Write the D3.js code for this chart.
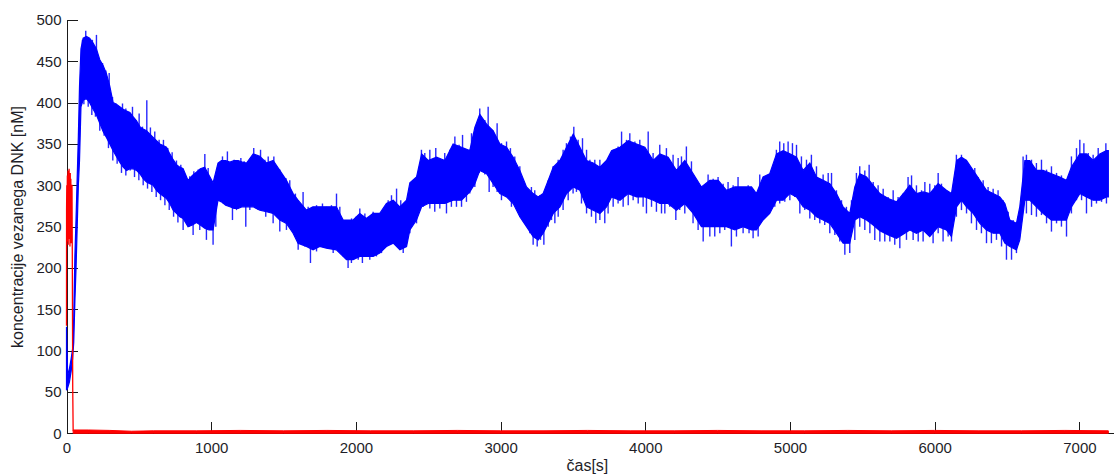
<!DOCTYPE html>
<html>
<head>
<meta charset="utf-8">
<script src="https://cdn.jsdelivr.net/npm/d3@7"></script>
<style>
  html, body { margin: 0; padding: 0; background: #fff; }
  svg { display: block; }
  .axis text { font-family: "Liberation Sans", Arial, sans-serif; font-size: 15px; fill: #1e1e28; }
  .axis path, .axis line { stroke: #1a1a1a; stroke-width: 1; shape-rendering: crispEdges; }
</style>
</head>
<body>
<svg id="chart" width="1114" height="474"></svg>
<script>
// Bound DNA concentration (blue): solid envelope of the noisy trace, time in s, values in nM
const blueTime = [0, 8, 20, 32, 42, 50, 58, 66, 74, 82, 90, 100, 115, 138, 160, 184, 207, 230, 253, 276,
  299, 322, 345, 368, 392, 415, 438, 460, 484, 507, 530, 553, 576, 599, 622, 645, 668, 691, 714, 737,
  760, 783, 806, 840, 870, 898, 925, 955, 985, 1013, 1047, 1071, 1100, 1129, 1158, 1186, 1215, 1244, 1290, 1336,
  1382, 1428, 1474, 1520, 1566, 1600, 1658, 1704, 1750, 1796, 1865, 1912, 1935, 1981, 2027, 2073, 2119, 2165, 2211, 2258,
  2304, 2350, 2373, 2419, 2454, 2500, 2557, 2615, 2672, 2730, 2787, 2822, 2856, 2903, 2949, 2995, 3041, 3087, 3133, 3179,
  3225, 3260, 3294, 3329, 3364, 3410, 3456, 3502, 3548, 3594, 3640, 3686, 3732, 3767, 3825, 3882, 3940, 3997, 4055, 4101,
  4158, 4215, 4273, 4331, 4388, 4446, 4504, 4561, 4619, 4676, 4734, 4768, 4814, 4860, 4907, 4953, 4999, 5045, 5091, 5137,
  5183, 5229, 5275, 5321, 5367, 5413, 5448, 5483, 5529, 5575, 5621, 5679, 5736, 5793, 5828, 5874, 5920, 5966, 6024, 6081,
  6116, 6151, 6185, 6220, 6266, 6312, 6358, 6404, 6450, 6485, 6519, 6565, 6588, 6623, 6657, 6703, 6749, 6807, 6864, 6910,
  6945, 7003, 7049, 7095, 7141, 7187, 7200];
const blueLow = [52, 55, 62, 75, 90, 110, 160, 200, 250, 300, 330, 395, 403, 405, 400, 392, 385, 375, 365, 358,
  350, 342, 335, 328, 322, 318, 320, 320, 318, 314, 308, 304, 302, 300, 294, 290, 287, 284, 278, 270,
  266, 262, 260, 250, 252, 255, 252, 248, 246, 246, 282, 280, 276, 274, 272, 272, 274, 274, 274, 270,
  268, 266, 258, 254, 242, 230, 226, 222, 226, 224, 222, 214, 210, 210, 214, 214, 214, 218, 226, 230,
  222, 226, 246, 258, 274, 278, 278, 278, 282, 282, 292, 302, 318, 314, 302, 290, 286, 278, 262, 250,
  238, 234, 242, 254, 266, 274, 290, 298, 294, 274, 270, 266, 274, 286, 282, 290, 286, 286, 282, 278,
  278, 270, 278, 266, 250, 250, 250, 250, 246, 250, 246, 246, 258, 266, 282, 282, 290, 286, 274, 270,
  262, 258, 254, 242, 230, 230, 258, 262, 258, 252, 245, 240, 236, 242, 246, 242, 246, 238, 250, 246,
  238, 274, 282, 274, 266, 254, 246, 242, 242, 230, 226, 222, 234, 282, 282, 274, 266, 258, 258, 258,
  274, 290, 286, 282, 282, 286, 286];
const blueHigh = [129, 70, 78, 90, 102, 140, 215, 260, 310, 360, 420, 465, 478, 480, 478, 472, 465, 452, 445, 435,
  420, 400, 398, 395, 392, 390, 388, 383, 378, 371, 368, 366, 362, 358, 354, 350, 348, 346, 338, 331,
  325, 322, 320, 306, 312, 316, 320, 322, 312, 303, 327, 330, 330, 328, 330, 330, 328, 327, 338, 335,
  327, 330, 318, 306, 290, 282, 270, 274, 274, 274, 274, 258, 258, 258, 266, 260, 266, 266, 278, 282,
  274, 282, 303, 310, 338, 330, 334, 330, 350, 346, 342, 370, 386, 374, 366, 350, 346, 334, 318, 298,
  290, 286, 290, 306, 322, 330, 346, 362, 346, 330, 327, 322, 330, 342, 346, 354, 350, 346, 330, 338,
  334, 318, 330, 314, 298, 306, 306, 294, 298, 298, 298, 290, 310, 314, 338, 342, 338, 334, 318, 327,
  310, 306, 302, 290, 274, 266, 298, 314, 310, 300, 290, 284, 280, 292, 300, 290, 292, 290, 302, 294,
  290, 330, 334, 330, 318, 306, 294, 290, 286, 278, 258, 254, 274, 330, 330, 318, 318, 314, 310, 306,
  322, 338, 338, 330, 338, 342, 342];

// Upward excursions of the blue trace (time, peak value)
const spikeUpTime = [110, 133, 156, 179, 207, 226, 249, 272, 295, 318, 341, 364, 387, 410, 433, 456, 479, 502, 525, 555,
  580, 610, 640, 670, 700, 730, 760, 790, 801, 852, 880, 910, 956, 979, 1002, 1055, 1078, 1112, 1159, 1205,
  1228, 1267, 1294, 1313, 1341, 1371, 1394, 1433, 1451, 1474, 1516, 1543, 1582, 1601, 1635, 1670, 1700, 1728, 1769, 1797,
  1831, 1866, 1889, 1935, 1970, 2000, 2027, 2062, 2085, 2119, 2154, 2188, 2223, 2246, 2281, 2310, 2350, 2373, 2396, 2430,
  2453, 2476, 2511, 2552, 2584, 2614, 2649, 2684, 2713, 2737, 2764, 2799, 2829, 2856, 2891, 2914, 2944, 2976, 3006, 3041,
  3068, 3098, 3133, 3167, 3213, 3236, 3271, 3306, 3329, 3363, 3398, 3432, 3455, 3483, 3506, 3536, 3566, 3594, 3617, 3651,
  3686, 3720, 3755, 3778, 3812, 3836, 3870, 3893, 3928, 3962, 3985, 4020, 4054, 4082, 4100, 4146, 4192, 4227, 4250, 4284,
  4319, 4353, 4388, 4434, 4469, 4503, 4538, 4572, 4607, 4641, 4676, 4711, 4745, 4791, 4826, 4872, 4906, 4929, 4957, 4987,
  5017, 5045, 5079, 5114, 5148, 5183, 5229, 5264, 5287, 5321, 5356, 5390, 5425, 5459, 5482, 5517, 5547, 5575, 5609, 5644,
  5678, 5713, 5747, 5782, 5816, 5840, 5874, 5909, 5932, 5966, 6001, 6024, 6047, 6081, 6116, 6150, 6185, 6215, 6247, 6277,
  6300, 6335, 6369, 6404, 6438, 6473, 6508, 6542, 6577, 6611, 6634, 6669, 6703, 6738, 6773, 6807, 6842, 6876, 6911, 6945,
  6980, 7003, 7031, 7061, 7095, 7130, 7153, 7183];
const spikeUpValue = [476, 487, 474, 476, 482, 452, 448, 439, 436, 407, 399, 395, 399, 393, 383, 395, 379, 387, 371, 403,
  370, 365, 355, 355, 345, 340, 330, 325, 321, 311, 317, 319, 338, 321, 302, 327, 335, 341, 331, 333,
  329, 331, 345, 335, 343, 331, 335, 335, 323, 319, 309, 306, 290, 282, 292, 274, 274, 276, 278, 274,
  276, 290, 274, 258, 260, 262, 272, 266, 262, 268, 266, 268, 282, 288, 296, 282, 278, 296, 302, 310,
  343, 339, 343, 345, 331, 339, 343, 359, 349, 361, 343, 363, 371, 393, 379, 395, 367, 375, 351, 353,
  345, 335, 323, 302, 298, 294, 288, 292, 306, 323, 331, 343, 351, 359, 371, 355, 357, 343, 331, 331,
  331, 323, 335, 343, 347, 365, 355, 363, 353, 355, 347, 365, 339, 331, 349, 345, 337, 333, 335, 347,
  329, 298, 294, 313, 308, 310, 302, 304, 300, 310, 298, 300, 294, 313, 310, 315, 343, 353, 351, 353,
  351, 349, 335, 331, 337, 323, 313, 315, 315, 294, 282, 274, 282, 315, 323, 318, 325, 304, 300, 296,
  286, 294, 286, 290, 310, 312, 300, 294, 304, 302, 300, 315, 302, 294, 290, 337, 337, 331, 319, 321,
  310, 306, 298, 296, 294, 282, 268, 258, 262, 335, 337, 331, 327, 331, 319, 323, 315, 312, 302, 335,
  345, 355, 351, 339, 337, 345, 335, 351];

// Downward excursions of the blue trace (time, trough value)
const spikeDownTime = [120, 150, 175, 200, 230, 260, 290, 320, 350, 380, 410, 440, 470, 500, 530, 560, 590, 620, 650, 680,
  710, 740, 770, 806, 848, 875, 898, 921, 967, 990, 1013, 1032, 1083, 1147, 1175, 1239, 1267, 1324, 1377, 1428,
  1474, 1520, 1578, 1601, 1647, 1686, 1728, 1797, 1843, 1877, 1912, 1946, 1969, 2016, 2045, 2096, 2142, 2177, 2211, 2281,
  2327, 2373, 2419, 2465, 2511, 2545, 2580, 2626, 2660, 2695, 2730, 2764, 2787, 2822, 2852, 2891, 2921, 2948, 2976, 3006,
  3041, 3075, 3110, 3133, 3167, 3202, 3225, 3253, 3276, 3299, 3329, 3352, 3375, 3398, 3432, 3467, 3501, 3524, 3559, 3594,
  3628, 3658, 3686, 3720, 3743, 3778, 3812, 3847, 3882, 3916, 3951, 3985, 4008, 4043, 4077, 4112, 4135, 4169, 4211, 4238,
  4273, 4307, 4330, 4365, 4400, 4446, 4480, 4515, 4549, 4595, 4630, 4676, 4717, 4745, 4780, 4814, 4849, 4895, 4929, 4964,
  4999, 5033, 5068, 5102, 5137, 5171, 5206, 5240, 5275, 5310, 5344, 5379, 5413, 5448, 5482, 5517, 5552, 5586, 5621, 5655,
  5690, 5724, 5759, 5805, 5851, 5886, 5920, 5955, 5989, 6024, 6058, 6093, 6116, 6150, 6185, 6220, 6254, 6289, 6323, 6358,
  6392, 6427, 6462, 6496, 6531, 6565, 6600, 6634, 6669, 6703, 6738, 6773, 6807, 6842, 6876, 6911, 6945, 6980, 7015, 7049,
  7084, 7118, 7153, 7187];
const spikeDownValue = [398, 395, 385, 383, 366, 360, 345, 330, 326, 315, 312, 318, 310, 306, 300, 296, 292, 286, 282, 276,
  270, 262, 255, 246, 250, 240, 258, 246, 234, 246, 228, 250, 278, 258, 270, 250, 270, 270, 262, 254,
  244, 246, 238, 222, 226, 206, 220, 226, 218, 226, 214, 200, 206, 210, 206, 210, 214, 218, 226, 228,
  218, 242, 254, 274, 272, 268, 272, 266, 274, 274, 274, 280, 290, 298, 315, 313, 292, 298, 292, 282,
  286, 274, 274, 262, 256, 242, 228, 226, 234, 228, 250, 258, 254, 262, 270, 282, 290, 292, 278, 266,
  262, 254, 258, 254, 266, 274, 278, 274, 276, 282, 278, 274, 266, 274, 268, 266, 266, 274, 258, 270,
  266, 274, 254, 246, 232, 238, 238, 242, 246, 226, 238, 242, 242, 236, 238, 258, 266, 274, 278, 280,
  282, 286, 266, 270, 260, 258, 254, 252, 242, 240, 232, 216, 218, 234, 250, 246, 242, 234, 232, 232,
  232, 228, 224, 234, 234, 232, 232, 242, 230, 242, 232, 238, 232, 262, 270, 266, 254, 246, 242, 230,
  230, 234, 226, 210, 210, 218, 258, 266, 264, 262, 264, 254, 244, 254, 250, 238, 266, 282, 282, 266,
  274, 278, 280, 278];

// Free DNA concentration (red): fast start-up transient, then a residual near zero
const redTime = [0, 0.5, 2, 4, 5, 6, 8, 9, 10, 12, 13, 14, 16, 17, 18, 20, 21, 22, 24, 25, 26, 28, 29, 30, 32, 33, 34, 36, 37, 38, 40, 43, 46];
const redValue = [130, 270, 300, 232, 290, 312, 240, 300, 318, 228, 290, 305, 250, 300, 320, 235, 310, 300, 226, 290, 315, 245, 300, 308, 230, 280, 296, 240, 300, 300, 222, 55, 3];
const redTailTime = [46, 150, 300, 450, 600, 900, 1200, 1500, 1800, 2100, 2400, 2700, 3000, 3300, 3600, 3900, 4200, 4500,
  4800, 5100, 5400, 5700, 6000, 6300, 6600, 6900, 7200];
const redTailHigh = [4, 4, 3.5, 2.5, 3, 3, 3.5, 3, 3.5, 3, 3, 3.5, 3, 3, 3.5, 3, 3, 3.5, 3, 3, 3.5, 3, 3.5, 3, 3, 3.5, 3];

// Axis ticks and titles
const xTicks = [0, 1000, 2000, 3000, 4000, 5000, 6000, 7000];
const yTicks = [0, 50, 100, 150, 200, 250, 300, 350, 400, 450, 500];
const xLabel = "čas[s]";
const yLabel = "koncentracije vezanega DNK [nM]";

const svg = d3.select("#chart");
const plotLeft = 66.5, plotBottom = 433.3, plotTop = 20;

const x = d3.scaleLinear().domain([0, 7300]).range([plotLeft, 1122.8]);
const y = d3.scaleLinear().domain([0, 500]).range([plotBottom, plotTop]);

// Axes (drawn under the data)
svg.append("g").attr("class", "axis")
  .attr("transform", `translate(${plotLeft},0)`)
  .call(d3.axisLeft(y).tickValues(yTicks).tickFormat(d3.format("d"))
    .tickSizeInner(-11).tickSizeOuter(0).tickPadding(5));
svg.append("g").attr("class", "axis")
  .attr("transform", `translate(0,${plotBottom})`)
  .call(d3.axisBottom(x).tickValues(xTicks).tickFormat(d3.format("d"))
    .tickSizeInner(-11.5).tickSizeOuter(0).tickPadding(9));

// Blue trace: excursions first, then the solid envelope over their roots
const blueData = blueTime.map((t, i) => ({ t, lo: blueLow[i], hi: blueHigh[i] }));
const bandMid = d3.scaleLinear().domain(blueTime).range(blueTime.map((t, i) => (blueLow[i] + blueHigh[i]) / 2));
const spikes = spikeUpTime.map((t, i) => ({ t, v: spikeUpValue[i] }))
  .concat(spikeDownTime.map((t, i) => ({ t, v: spikeDownValue[i] })));

svg.append("g").selectAll("line").data(spikes)
  .join("line")
  .attr("x1", d => x(d.t)).attr("x2", d => x(d.t))
  .attr("y1", d => y(bandMid(d.t))).attr("y2", d => y(d.v))
  .attr("stroke", "#0000ff").attr("stroke-width", 1.4).attr("stroke-opacity", 0.85);

svg.append("path")
  .datum(blueData)
  .attr("d", d3.area().x(d => x(d.t)).y0(d => y(d.lo)).y1(d => y(d.hi)))
  .attr("fill", "#0000ff").attr("stroke", "#0000ff").attr("stroke-width", 1.2);

// Red trace
svg.append("path")
  .datum(redTailTime.map((t, i) => ({ t, hi: redTailHigh[i] })))
  .attr("d", d3.area().x(d => x(d.t)).y0(y(0)).y1(d => y(d.hi)))
  .attr("fill", "#ff0000").attr("stroke", "#ff0000").attr("stroke-width", 1);

svg.append("path")
  .datum(redTime.map((t, i) => ({ t, v: redValue[i] })))
  .attr("d", d3.line().x(d => x(d.t)).y(d => y(d.v)))
  .attr("fill", "none").attr("stroke", "#ff0000").attr("stroke-width", 1.3);

// Axis titles
svg.append("text")
  .attr("x", (x(0) + x(7200)) / 2).attr("y", 470.5)
  .attr("text-anchor", "middle")
  .style("font-family", "'Liberation Sans', Arial, sans-serif").style("font-size", "16px").style("fill", "#1e1e28")
  .text(xLabel);

svg.append("text")
  .attr("transform", "translate(23.3,227) rotate(-90)")
  .attr("text-anchor", "middle")
  .style("font-family", "'Liberation Sans', Arial, sans-serif").style("font-size", "16px").style("fill", "#1e1e28")
  .text(yLabel);
</script>
</body>
</html>
